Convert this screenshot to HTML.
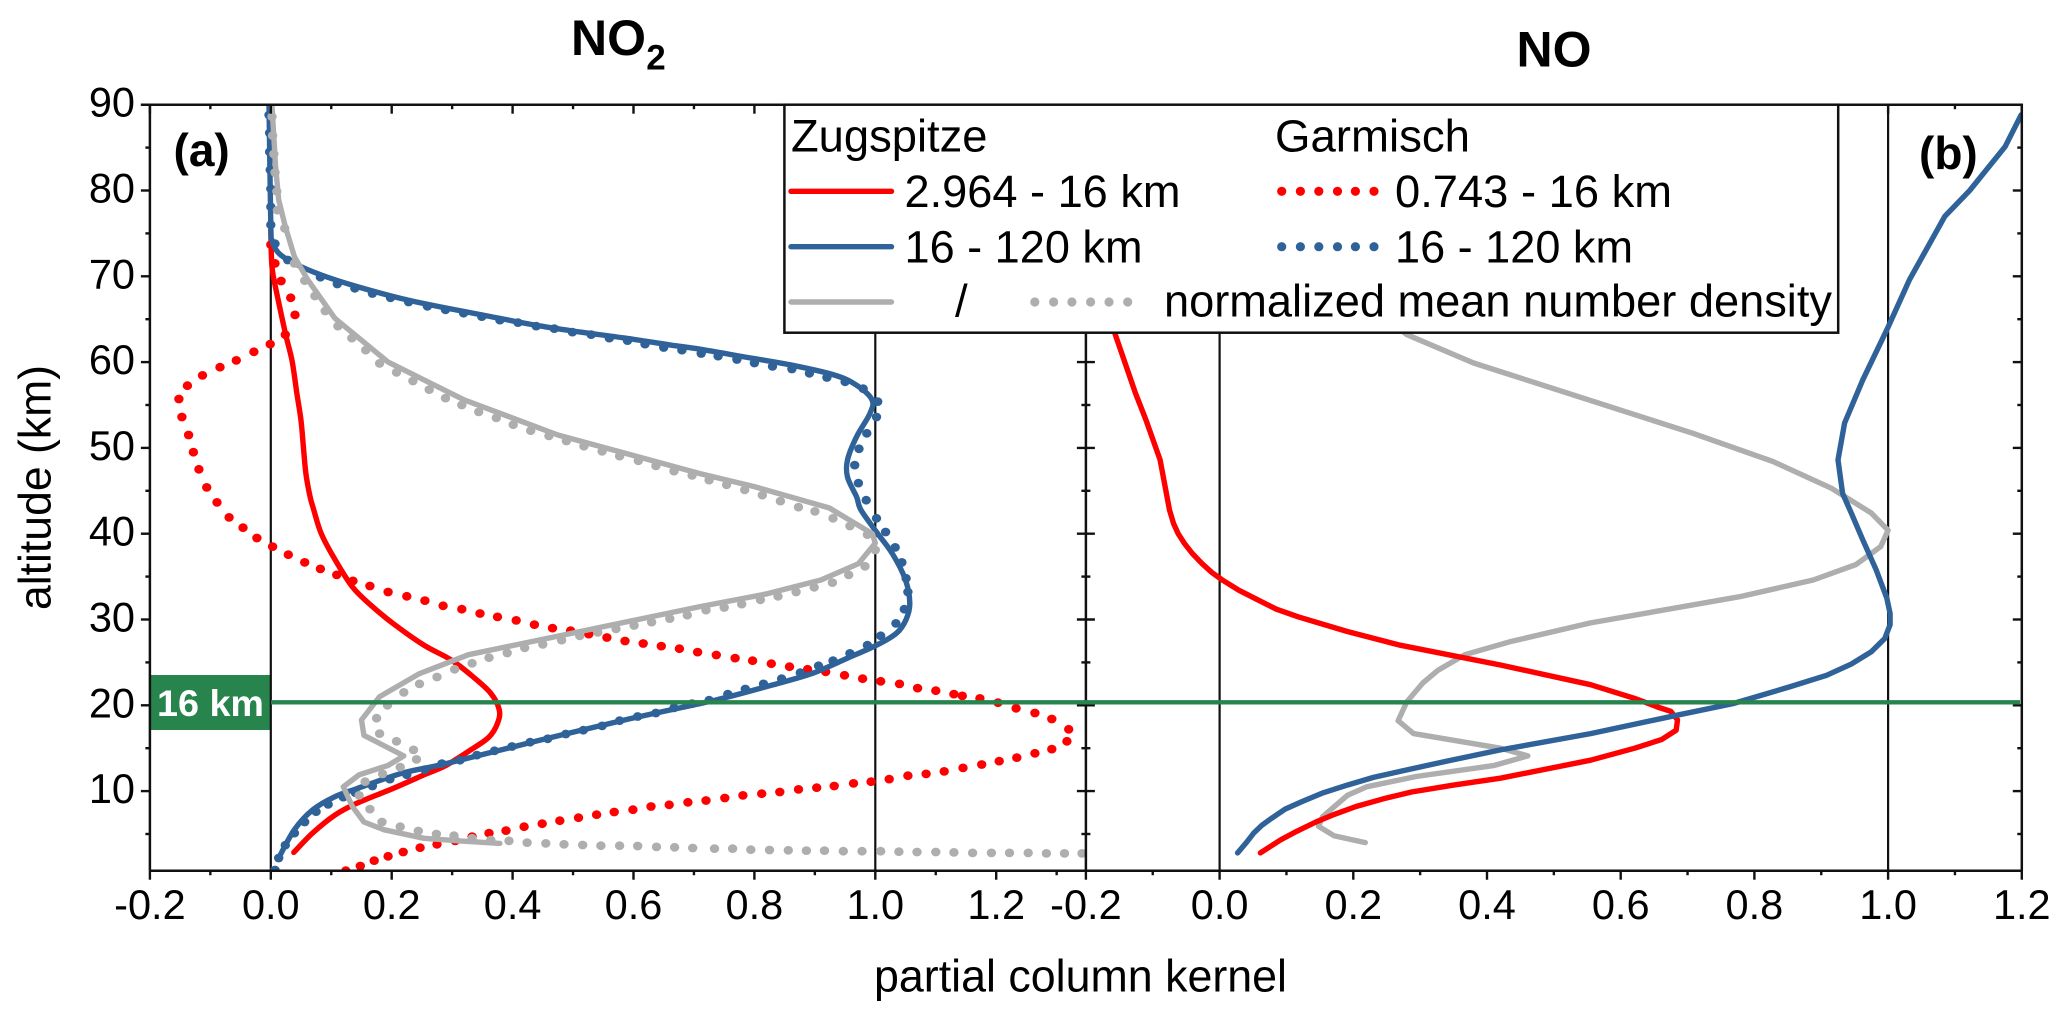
<!DOCTYPE html>
<html lang="en">
<head>
<meta charset="utf-8">
<title>Partial column kernels for NO2 and NO</title>
<style>
html,body{margin:0;padding:0;background:#fff;}
svg{display:block;font-family:"Liberation Sans",Arial,sans-serif;}
</style>
</head>
<body>
<svg id="chart" xmlns="http://www.w3.org/2000/svg" width="2067" height="1020" viewBox="0 0 2067 1020">
  <defs>
    <clipPath id="clip-left"><rect x="151" y="104.7" width="935" height="766"/></clipPath>
    <clipPath id="clip-right"><rect x="1086" y="104.7" width="936.4" height="766"/></clipPath>
  </defs>
  <rect width="2067" height="1020" fill="#fff"/>
  <rect x="151" y="675" width="120" height="55" fill="#26844c"/>
  <g id="guides"></g>
  <g id="series-left" clip-path="url(#clip-left)"></g>
  <g id="series-right" clip-path="url(#clip-right)"></g>
  <g id="axes"></g>
  <line x1="271" x2="2020" y1="702.3" y2="702.3" stroke="#26844c" stroke-width="4.4"/>
  <text x="157" y="716" font-size="37.5" font-weight="bold" fill="#fff" textLength="107" lengthAdjust="spacingAndGlyphs" xml:space="preserve">16 km</text>

  <g>
    <rect x="784.4" y="104.7" width="1053.8" height="228" fill="#fff" stroke="#111" stroke-width="2.5"/>
    <text x="791" y="151.7" font-size="45.5" textLength="196.5" lengthAdjust="spacingAndGlyphs">Zugspitze</text>
    <text x="1275" y="151.7" font-size="45.5" textLength="195" lengthAdjust="spacingAndGlyphs">Garmisch</text>
    <line x1="791" x2="891.5" y1="191.3" y2="191.3" stroke="#f00" stroke-width="5.4" stroke-linecap="round"/>
    <text x="904.5" y="207.2" font-size="45.5" textLength="276" lengthAdjust="spacingAndGlyphs">2.964 - 16 km</text>
    <line x1="791" x2="891.5" y1="246.7" y2="246.7" stroke="#2f6299" stroke-width="5.4" stroke-linecap="round"/>
    <text x="904.5" y="262.5" font-size="45.5" textLength="238" lengthAdjust="spacingAndGlyphs">16 - 120 km</text>
    <line x1="791" x2="891.5" y1="302" y2="302" stroke="#aeaeae" stroke-width="5.4" stroke-linecap="round"/>
    <text x="955" y="316.7" font-size="45.5">/</text>
    <g id="legend-dots"></g>
    <text x="1395" y="207.2" font-size="45.5" textLength="277" lengthAdjust="spacingAndGlyphs">0.743 - 16 km</text>
    <text x="1395" y="262.5" font-size="45.5" textLength="238" lengthAdjust="spacingAndGlyphs">16 - 120 km</text>
    <text x="1164" y="316.7" font-size="45.5" textLength="668" lengthAdjust="spacingAndGlyphs">normalized mean number density</text>
  </g>

  <text x="173.5" y="166" font-size="46" font-weight="bold">(a)</text>
  <text x="1919" y="169" font-size="46" font-weight="bold">(b)</text>
  <text x="571" y="55" font-size="50" font-weight="bold">NO</text>
  <text x="646.3" y="69.3" font-size="35" font-weight="bold">2</text>
  <text x="1516.5" y="66.7" font-size="50" font-weight="bold">NO</text>
  <text x="874" y="991.7" font-size="45" textLength="413" lengthAdjust="spacingAndGlyphs">partial column kernel</text>
  <text transform="translate(50.5 610) rotate(-90)" font-size="45" textLength="245" lengthAdjust="spacingAndGlyphs" xml:space="preserve">altitude (km)</text>
</svg>

<script>
const altitudeTicks = [10, 20, 30, 40, 50, 60, 70, 80, 90];
const altitudeMinorTicks = [5, 15, 25, 35, 45, 55, 65, 75, 85];
const kernelTicks = [-0.2, 0, 0.2, 0.4, 0.6, 0.8, 1, 1.2];
const kernelTickLabels = ["-0.2", "0.0", "0.2", "0.4", "0.6", "0.8", "1.0", "1.2"];
const kernelMinorTicksLeft = [-0.1, 0.1, 0.3, 0.5, 0.7, 0.9, 1.1, 1.3];
const kernelMinorTicksRight = [-0.1, 0.1, 0.3, 0.5, 0.7, 0.9, 1.1];
const referenceLinesLeft = [0, 1];
const referenceLinesRight = [0, 1];

const no2ZugspitzeLow = [[0,75.4],[.002,71.1],[.01,68],[.024,63.4],[.035,60.2],[.043,56.4],[.05,53.2],[.054,50.1],[.058,47],[.065,44.3],[.071,42.8],[.0835,40],[.106,37],[.135,33.8],[.165,31.7],[.202,29.55],[.2535,27],[.298,25.3],[.335,23.3],[.364,21.4],[.378,19.45],[.375,17.9],[.361,16.3],[.335,15],[.29,13],[.2535,11.9],[.202,10.3],[.143,8.6],[.106,7.2],[.069,5.1],[.038,2.86]];
const no2ZugspitzeHigh = [[-.003,90],[0,76],[.002,74.2],[.013,72.7],[.039,71.5],[.0835,70.15],[.143,68.8],[.2165,67.4],[.29,66.3],[.364,65.3],[.438,64.3],[.512,63.5],[.586,62.8],[.66,62],[.71,61.5],[.784,60.6],[.858,59.7],[.932,58.5],[.969,57.3],[.9945,55.6],[.991,54],[.969,51.3],[.954,48.6],[.954,46.6],[.969,44.3],[.976,42.8],[1.002,40.2],[1.028,37.7],[1.05,34.6],[1.057,31.9],[1.051,30],[1.035,28.4],[1.002,27],[.954,25.5],[.895,23.7],[.821,22.2],[.747,20.8],[.71,20.2],[.586,18.3],[.438,15.8],[.29,13.2],[.2165,12.07],[.143,10.3],[.106,9.35],[.069,7.8],[.039,5.5],[.013,2.2]];
const no2ZugspitzeDensity = [[.002,89.8],[.008,82.8],[.013,78.9],[.024,75.8],[.039,72.3],[.061,69.6],[.106,65.1],[.194,60],[.32,55.6],[.475,51.5],[.71,47],[.799,45.5],[.924,43],[.995,40],[1,38.9],[.972,36.5],[.91,34.6],[.821,33],[.71,31.5],[.512,28.6],[.327,25.9],[.246,23.7],[.18,21],[.15,18.3],[.154,16.5],[.22,14.1],[.194,13],[.146,11.9],[.12,10.5],[.135,8.2],[.154,6.4],[.187,5.5],[.2535,4.5],[.313,4.2],[.379,3.9]];

const no2GarmischLow = [[.124,.72],[.148,1.27],[.171,1.9],[.194,2.4],[.219,2.9],[.247,3.4],[.275,3.8],[.305,4.2],[.333,4.7],[.361,5.1],[.389,5.4],[.419,5.85],[.449,6.2],[.478,6.55],[.509,6.9],[.539,7.25],[.568,7.56],[.599,7.83],[.629,8.2],[.659,8.4],[.69,8.7],[.72,8.9],[.751,9.2],[.781,9.5],[.812,9.7],[.842,9.9],[.873,10.2],[.903,10.4],[.932,10.6],[.964,10.9],[.993,11.1],[1.023,11.4],[1.054,11.8],[1.084,12],[1.114,12.3],[1.145,12.7],[1.176,13.1],[1.205,13.5],[1.234,13.9],[1.264,14.4],[1.292,14.9],[1.317,15.8],[1.32,17.2],[1.292,18.4],[1.264,19.1],[1.233,19.65],[1.203,20.3],[1.173,20.8],[1.144,21.1],[1.13,21.3],[1.1,21.7],[1.07,22],[1.04,22.5],[1.009,22.8],[.979,23.1],[.949,23.5],[.918,23.9],[.888,24.2],[.858,24.5],[.828,24.85],[.797,25.2],[.768,25.5],[.737,25.86],[.706,26.2],[.676,26.6],[.646,26.9],[.616,27.2],[.586,27.5],[.556,27.9],[.526,28.3],[.496,28.7],[.466,29],[.436,29.4],[.406,29.9],[.375,30.3],[.346,30.7],[.316,31.2],[.285,31.6],[.255,32.2],[.225,32.7],[.194,33.2],[.164,33.9],[.136,34.5],[.109,35.2],[.082,35.9],[.056,36.66],[.029,37.55],[.003,38.5],[-.023,39.5],[-.046,40.7],[-.069,41.9],[-.089,43.65],[-.106,45.4],[-.119,47.5],[-.128,49.5],[-.136,51.5],[-.147,53.6],[-.152,55.7],[-.138,57.25],[-.113,58.45],[-.084,59.4],[-.057,60.2],[-.028,61.2],[-.001,62.1],[.024,63.2],[.04,65.5],[.033,67.5],[.017,69.45],[.007,71.5],[0,73.7]];
const no2GarmischHigh = [[.007,.8],[.013,2.2],[.024,3.7],[.039,5.1],[.056,6.4],[.075,7.6],[.095,8.45],[.12,9.3],[.14,9.8],[.168,10.6],[.197,11.4],[.225,11.9],[.255,12.5],[.283,13.2],[.313,13.6],[.341,14.2],[.37,14.7],[.399,15.2],[.429,15.7],[.458,16.1],[.488,16.65],[.517,17.1],[.548,17.6],[.577,18.2],[.607,18.7],[.637,19.1],[.667,19.7],[.697,20.2],[.725,20.6],[.756,21.3],[.785,21.9],[.815,22.5],[.845,23.1],[.876,23.8],[.906,24.6],[.93,25.2],[.958,26.05],[.987,27],[1.009,28.1],[1.034,29.55],[1.048,31.2],[1.054,33.2],[1.051,34.8],[1.044,36.66],[1.033,38.4],[1.017,40.2],[1.002,41.8],[.985,43.9],[.972,45.9],[.966,48],[.973,49.9],[.986,51.7],[1.002,53.6],[1.004,55.4],[.98,56.9],[.95,57.7],[.92,58.2],[.891,58.7],[.862,59.2],[.83,59.5],[.8,59.9],[.771,60.3],[.74,60.7],[.712,61],[.68,61.4],[.65,61.7],[.619,62.1],[.59,62.5],[.56,62.8],[.53,63.2],[.499,63.5],[.469,63.9],[.439,64.2],[.409,64.6],[.379,64.9],[.349,65.3],[.319,65.7],[.289,66.1],[.259,66.5],[.228,67],[.198,67.5],[.168,68],[.139,68.6],[.11,69.1],[.082,69.9],[.028,71.9],[.007,73.8],[0,76],[0,78.1],[0,80.2],[-.001,82.4],[-.002,84.5],[-.002,86.7],[-.003,88.8]];
const no2GarmischDensity = [[1.342,2.74],[1.313,2.74],[1.283,2.74],[1.253,2.8],[1.222,2.8],[1.192,2.8],[1.161,2.8],[1.13,2.86],[1.1,2.9],[1.069,2.9],[1.039,2.94],[1.009,3],[.978,3],[.947,3],[.916,3.06],[.886,3.06],[.856,3.1],[.825,3.13],[.794,3.17],[.764,3.3],[.734,3.3],[.698,3.37],[.668,3.45],[.638,3.5],[.607,3.6],[.577,3.64],[.546,3.64],[.516,3.72],[.485,3.8],[.455,3.9],[.424,4],[.394,4.2],[.364,4.3],[.333,4.5],[.303,4.8],[.274,5],[.244,5.35],[.214,5.85],[.184,6.4],[.164,7.9],[.146,9.5],[.156,11.1],[.185,12],[.214,12.8],[.241,13.7],[.236,14.8],[.208,15.8],[.18,16.7],[.175,18.5],[.193,20],[.22,21.5],[.246,22.5],[.275,23.3],[.304,24.2],[.333,24.9],[.361,25.55],[.391,26.1],[.42,26.7],[.45,27.1],[.481,27.6],[.511,28.1],[.541,28.5],[.571,28.9],[.601,29.3],[.63,29.7],[.66,30.1],[.689,30.5],[.72,31.1],[.75,31.4],[.779,31.8],[.81,32.3],[.839,32.7],[.869,33.2],[.899,33.75],[.929,34.3],[.956,35.2],[.983,36.2],[1,38.1],[.987,39.9],[.958,40.9],[.93,41.8],[.9,42.6],[.873,43.1],[.843,43.8],[.813,44.5],[.784,45.1],[.754,45.7],[.725,46.25],[.697,46.8],[.667,47.3],[.637,47.9],[.608,48.5],[.577,49.05],[.548,49.6],[.518,50.2],[.489,50.8],[.46,51.4],[.43,52],[.401,52.7],[.373,53.5],[.344,54.2],[.316,55],[.289,55.8],[.262,56.8],[.235,57.8],[.208,58.8],[.18,59.85],[.157,61.4],[.134,62.8],[.111,64.2],[.09,65.95],[.073,67.7],[.056,69.5],[.039,71.5],[.023,75.6],[.011,77.7],[.01,79.9],[.007,82.1],[.005,84.25],[.003,86.4],[.002,88.6]];

const noZugspitzeLow = [[.061,2.8],[.075,3.5],[.091,4.3],[.115,5.3],[.144,6.4],[.172,7.3],[.204,8.2],[.245,9.1],[.287,9.9],[.35,10.7],[.42,11.5],[.555,13.6],[.621,15],[.661,16],[.683,17.1],[.685,18.3],[.675,19.3],[.655,19.8],[.621,20.8],[.555,22.4],[.42,24.7],[.27,27],[.191,28.6],[.118,30.3],[.085,31.2],[.057,32.3],[.029,33.4],[.004,34.6],[-.012,35.5],[-.026,36.5],[-.041,37.7],[-.053,38.9],[-.062,40],[-.069,41.2],[-.075,42.76],[-.089,48.6],[-.11,53.2],[-.126,56.4],[-.156,63.2],[-.18,70]];
const noZugspitzeHigh = [[.027,2.8],[.04,4],[.051,5.1],[.063,6],[.077,6.8],[.098,7.9],[.124,8.8],[.155,9.8],[.191,10.7],[.23,11.6],[.27,12.3],[.34,13.5],[.42,14.8],[.555,16.7],[.688,18.9],[.768,20.2],[.855,22.2],[.908,23.5],[.945,24.8],[.975,26.25],[.995,27.8],[1.003,29.4],[1.003,30.7],[.998,32.5],[.982,35.8],[.962,39.3],[.945,42.4],[.932,44.7],[.925,48.6],[.935,52.9],[.962,57.9],[.999,63.9],[1.032,69.6],[1.085,77],[1.122,80],[1.175,85.1],[1.199,88.8]];
const noZugspitzeDensity = [[.218,4],[.171,4.8],[.148,5.9],[.154,7],[.191,9.5],[.22,10.5],[.294,11.7],[.411,13],[.461,14.1],[.42,15],[.29,16.7],[.267,18.2],[.28,20.4],[.304,22.6],[.327,24.1],[.367,25.9],[.434,27.4],[.555,29.6],[.781,32.7],[.888,34.6],[.952,36.4],[.989,38.5],[1,40.4],[.975,42.4],[.915,45.3],[.828,48.4],[.708,51.7],[.38,59.9],[.28,63.2],[.2,68]];

const svgNS = "http://www.w3.org/2000/svg";
const yTop = 104.7, altUnit = 8.58, topAlt = 90;
const leftZero = 270.8, leftUnit = 604.5;
const rightZero = 1219.6, rightUnit = 668.5;
const yScale = a => yTop + (topAlt - a) * altUnit;
const xLeft = v => leftZero + v * leftUnit;
const xRight = v => rightZero + v * rightUnit;

function make(tag, parent, attrs) {
  const el = document.createElementNS(svgNS, tag);
  for (const k in attrs) el.setAttribute(k, attrs[k]);
  parent.appendChild(el);
  return el;
}
function pathFor(pts, xf, smooth) {
  const p = pts.map(d => [xf(d[0]), yScale(d[1])]);
  let s = "M" + p[0][0].toFixed(1) + " " + p[0][1].toFixed(1);
  for (let i = 0; i < p.length - 1; i++) {
    if (!smooth) { s += "L" + p[i + 1][0].toFixed(1) + " " + p[i + 1][1].toFixed(1); continue; }
    const a = p[Math.max(i - 1, 0)], b = p[i], c = p[i + 1], d = p[Math.min(i + 2, p.length - 1)];
    const c1x = b[0] + (c[0] - a[0]) / 6, c1y = b[1] + (c[1] - a[1]) / 6;
    const c2x = c[0] - (d[0] - b[0]) / 6, c2y = c[1] - (d[1] - b[1]) / 6;
    s += "C" + [c1x, c1y, c2x, c2y, c[0], c[1]].map(n => n.toFixed(1)).join(" ");
  }
  return s;
}
function drawLine(parent, name, pts, xf, color, smooth) {
  const el = make("path", parent, {
    d: pathFor(pts, xf, smooth),
    fill: "none", stroke: color, "stroke-width": 5.4, "stroke-linejoin": "round", "stroke-linecap": "round"
  });
  
  
}
function drawDots(parent, name, pts, xf, color) {
  const g = make("g", parent, { fill: color });
  
  
  pts.forEach(p => {
    const c = make("ellipse", g, { cx: xf(p[0]).toFixed(1), cy: yScale(p[1]).toFixed(1), rx: 4.7, ry: 4.4 });
    
    
  });
}
function tick(parent, name, x1, y1, x2, y2, w) {
  const el = make("line", parent, { x1, y1, x2, y2, stroke: "#111", "stroke-width": w || 2.4 });
  
  
}
function label(parent, name, x, y, anchor, str) {
  const el = make("text", parent, { x, y, "text-anchor": anchor, "font-size": 41.5 });
  el.textContent = str;
  
  
}

const RED = "#f00", BLUE = "#2f6299", GRAY = "#aeaeae";
const guides = document.getElementById("guides");
const seriesL = document.getElementById("series-left");
const seriesR = document.getElementById("series-right");
const axes = document.getElementById("axes");
const legendDots = document.getElementById("legend-dots");

referenceLinesLeft.forEach(v => tick(guides, "reference-line-left", xLeft(v), yTop, xLeft(v), yScale(0.72), 2.2));
referenceLinesRight.forEach(v => tick(guides, "reference-line-right", xRight(v), yTop, xRight(v), yScale(0.72), 2.2));

drawDots(seriesL, "no2-garmisch-0743-16-km-dots", no2GarmischLow, xLeft, RED);
drawLine(seriesL, "no2-zugspitze-2964-16-km-line", no2ZugspitzeLow, xLeft, RED, true);
drawDots(seriesL, "no2-garmisch-16-120-km-dots", no2GarmischHigh, xLeft, BLUE);
drawLine(seriesL, "no2-zugspitze-16-120-km-line", no2ZugspitzeHigh, xLeft, BLUE, true);
drawDots(seriesL, "no2-garmisch-density-dots", no2GarmischDensity, xLeft, GRAY);
drawLine(seriesL, "no2-zugspitze-density-line", no2ZugspitzeDensity, xLeft, GRAY, false);

drawLine(seriesR, "no-density-line", noZugspitzeDensity, xRight, GRAY, false);
drawLine(seriesR, "no-2964-16-km-line", noZugspitzeLow, xRight, RED, false);
drawLine(seriesR, "no-16-120-km-line", noZugspitzeHigh, xRight, BLUE, false);

const spineLeft = xLeft(-0.2), spineMid = xRight(-0.2), spineRight = xRight(1.2), yBottom = yScale(0.72);
tick(axes, "left-spine", spineLeft, yTop, spineLeft, yBottom, 2.5);
tick(axes, "middle-spine", spineMid, yTop, spineMid, yBottom, 2.5);
tick(axes, "right-spine", spineRight, yTop - 1, spineRight, yBottom, 2.5);
tick(axes, "top-spine", spineLeft - 9, yTop, spineRight + 1, yTop, 2.5);
tick(axes, "bottom-spine", spineLeft, yBottom, spineRight + 1, yBottom, 2.5);

altitudeTicks.forEach(a => {
  const y = yScale(a);
  tick(axes, "y-tick-left", spineLeft - 9, y, spineLeft, y);
  tick(axes, "y-tick-middle", spineMid - 9, y, spineMid + 9, y);
  tick(axes, "y-tick-right", spineRight - 9, y, spineRight, y);
  label(axes, "y-tick-label", 135, y + 12, "end", String(a));
});
altitudeMinorTicks.forEach(a => {
  const y = yScale(a);
  tick(axes, "y-minor-tick-left", spineLeft - 4.5, y, spineLeft, y);
  tick(axes, "y-minor-tick-middle", spineMid - 4.5, y, spineMid + 4.5, y);
  tick(axes, "y-minor-tick-right", spineRight - 4.5, y, spineRight, y);
});
kernelTicks.forEach((v, i) => {
  const xl = xLeft(v), xr = xRight(v);
  tick(axes, "x-tick-left", xl, yBottom, xl, yBottom + 9);
  tick(axes, "x-tick-right", xr, yBottom, xr, yBottom + 9);
  tick(axes, "x-top-tick-left", xl, yTop, xl, yTop + 9);
  tick(axes, "x-top-tick-right", xr, yTop, xr, yTop + 9);
  label(axes, "x-tick-label-left", xl, 918.8, "middle", kernelTickLabels[i]);
  label(axes, "x-tick-label-right", xr, 918.8, "middle", kernelTickLabels[i]);
});
kernelMinorTicksLeft.forEach(v => {
  tick(axes, "x-minor-tick-left", xLeft(v), yBottom, xLeft(v), yBottom + 4.5);
  tick(axes, "x-top-minor-tick-left", xLeft(v), yTop, xLeft(v), yTop + 4.5);
});
kernelMinorTicksRight.forEach(v => {
  tick(axes, "x-minor-tick-right", xRight(v), yBottom, xRight(v), yBottom + 4.5);
  tick(axes, "x-top-minor-tick-right", xRight(v), yTop, xRight(v), yTop + 4.5);
});

[[1281.7, 191.3, RED], [1300.4, 191.3, RED], [1318.8, 191.3, RED], [1337.5, 191.3, RED], [1355.4, 191.3, RED], [1374, 191.3, RED],
 [1281.7, 246.7, BLUE], [1300.4, 246.7, BLUE], [1318.8, 246.7, BLUE], [1337.5, 246.7, BLUE], [1355.4, 246.7, BLUE], [1374, 246.7, BLUE],
 [1034.8, 302, GRAY], [1053.6, 302, GRAY], [1071.9, 302, GRAY], [1090.6, 302, GRAY], [1109, 302, GRAY], [1127.7, 302, GRAY]].forEach(d => {
  const c = make("ellipse", legendDots, { cx: d[0], cy: d[1], rx: 4.6, ry: 4.6, fill: d[2] });
  
  
});
</script>
</body>
</html>
